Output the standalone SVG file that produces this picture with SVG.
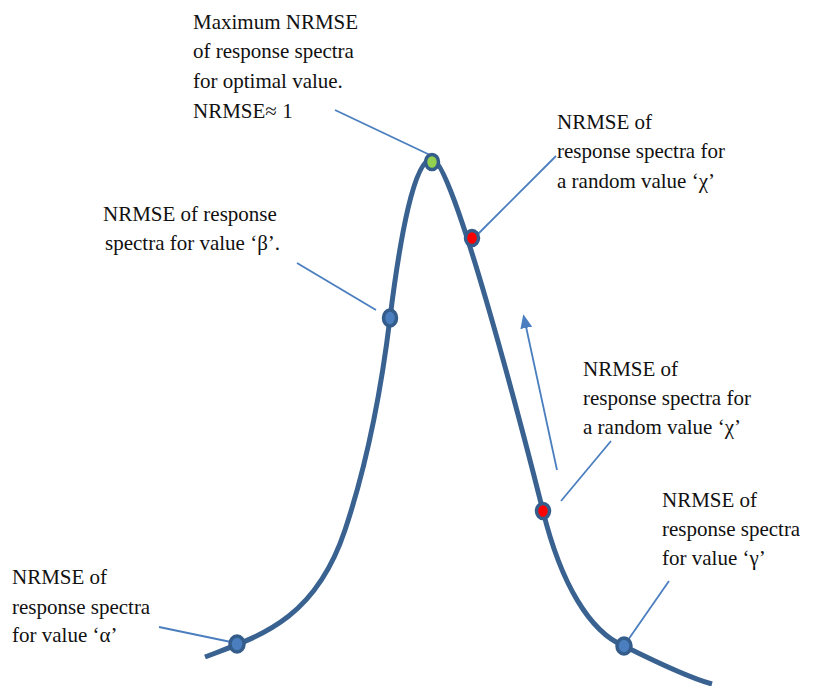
<svg xmlns="http://www.w3.org/2000/svg" width="836" height="686" viewBox="0 0 836 686">
<style>
text{font-family:"Liberation Serif","Times New Roman",serif;font-size:21px;fill:#111}
.lead{stroke:#4a7ebf;stroke-width:1.8;fill:none}
.curve{stroke:#3a6291;stroke-width:5;fill:none}
.dot{stroke:#355d8c;stroke-width:3.5}
</style>
<defs>
<marker id="ah" markerWidth="14" markerHeight="12" refX="6" refY="6" orient="auto" markerUnits="userSpaceOnUse" viewBox="0 0 14 12">
<path d="M0,0 L14,6 L0,12 z" fill="#4a7ebf"/>
</marker>
</defs>
<rect width="836" height="686" fill="#fff"/>
<g id="connectors">
<path class="curve" d="M205,657 C260,636 315,620 345,530 C365,470 380,400 390,318 C400,238 414,159 432,159 C452,159 520,420 543,511 C561,584 590,632 624,646 C660,664 690,678 712,684"/>
<line class="lead" x1="335" y1="110" x2="430" y2="155"/>
<line class="lead" x1="297" y1="263" x2="376" y2="310"/>
<line class="lead" x1="478" y1="234" x2="556" y2="156"/>
<line class="lead" x1="561" y1="501" x2="611" y2="441"/>
<line class="lead" x1="628" y1="640" x2="669" y2="581"/>
<line class="lead" x1="159" y1="627" x2="231" y2="642"/>
<line class="lead" x1="557" y1="470" x2="525" y2="322" marker-end="url(#ah)"/>
</g>
<g id="node-max">
<ellipse class="dot" cx="432" cy="162" rx="6.5" ry="7.5" fill="#92d050"/>
<text x="193" y="29">Maximum NRMSE</text>
<text x="193" y="58">of response spectra</text>
<text x="193" y="88">for optimal value.</text>
<text x="193" y="118">NRMSE≈ 1</text>
</g>
<g id="node-chi1">
<ellipse class="dot" cx="472" cy="238" rx="6.5" ry="7.5" fill="#ff0000"/>
<text x="557" y="129">NRMSE of</text>
<text x="557" y="158">response spectra for</text>
<text x="557" y="188">a random value ‘χ’</text>
</g>
<g id="node-beta">
<ellipse class="dot" cx="390" cy="318" rx="6.5" ry="8" fill="#4a7ebf"/>
<text x="103" y="221">NRMSE of response</text>
<text x="105" y="250">spectra for value ‘β’.</text>
</g>
<g id="node-chi2">
<ellipse class="dot" cx="543" cy="511" rx="6.5" ry="7.5" fill="#ff0000"/>
<text x="583" y="376">NRMSE of</text>
<text x="583" y="405">response spectra for</text>
<text x="583" y="434">a random value ‘χ’</text>
</g>
<g id="node-gamma">
<ellipse class="dot" cx="624" cy="646" rx="7" ry="8" fill="#4a7ebf"/>
<text x="662" y="507">NRMSE of</text>
<text x="662" y="536">response spectra</text>
<text x="662" y="565">for value ‘γ’</text>
</g>
<g id="node-alpha">
<ellipse class="dot" cx="237" cy="644" rx="7" ry="8" fill="#4a7ebf"/>
<text x="12" y="584">NRMSE of</text>
<text x="12" y="614">response spectra</text>
<text x="12" y="642">for value ‘α’</text>
</g>
</svg>
